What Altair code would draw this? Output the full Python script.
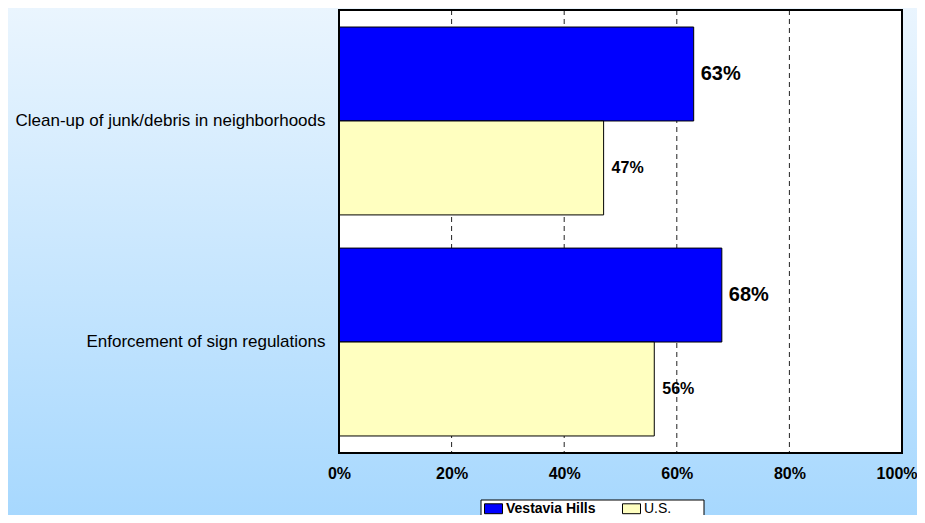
import altair as alt
import pandas as pd

categories = ["Clean-up of junk/debris in neighborhoods", "Enforcement of sign regulations"]
series = ["Vestavia Hills", "U.S."]
vestavia = [0.63, 0.68]
us = [0.47, 0.56]
x_ticks = [0, 0.2, 0.4, 0.6, 0.8, 1.0]
grid_vals = [0.2, 0.4, 0.6, 0.8]
colors = ["#0000FF", "#FFFFC0"]

rows = []
for c, v, u in zip(categories, vestavia, us):
    rows.append({"category": c, "series": series[0], "value": v, "label": f"{round(v*100)}%"})
    rows.append({"category": c, "series": series[1], "value": u, "label": f"{round(u*100)}%"})
df = pd.DataFrame(rows)

W, H = 563, 443
PL, PT, PR, PB = 331, 2, 15, 62
FONT = "Arial, Liberation Sans, sans-serif"

x_axis = alt.Axis(values=x_ticks, format=".0%", title=None, grid=False, domain=False, ticks=False,
                  labelFontWeight="bold", labelFontSize=16, labelFont=FONT, labelColor="black",
                  labelPadding=12, labelFlush=False, zindex=2,
                  labelAlign={"condition": {"test": "datum.value >= 1", "value": "right"}, "value": "center"},
                  labelOffset={"condition": {"test": "datum.value >= 1", "value": 15}, "value": 0})
x_enc = alt.X("value:Q", scale=alt.Scale(domain=[0, 1], nice=False, zero=True), axis=x_axis)
y_enc = alt.Y("category:N", sort=categories, title=None,
              scale=alt.Scale(paddingInner=0.15, paddingOuter=0.077),
              axis=alt.Axis(title=None, ticks=False, domain=False, labelFontSize=17, labelFont=FONT,
                            labelColor="black", labelPadding=14, labelLimit=400, zindex=2))
yoff = alt.YOffset("series:N", sort=series, scale=alt.Scale(paddingInner=0, paddingOuter=0))

one = pd.DataFrame({"a": [0]})

bg = alt.Chart(one).mark_rect(
    clip=False,
    fill=alt.Gradient(gradient="linear", x1=0, x2=0, y1=0, y2=1,
                      stops=[alt.GradientStop(color="#EAF5FE", offset=0),
                             alt.GradientStop(color="#A7D8FE", offset=1)])
).encode(x=alt.value(-PL), x2=alt.value(W + PR), y=alt.value(-PT), y2=alt.value(H + PB))

white = alt.Chart(one).mark_rect(fill="white").encode(
    x=alt.value(0), x2=alt.value(W), y=alt.value(0), y2=alt.value(H))

grid = alt.Chart(pd.DataFrame({"value": grid_vals})).mark_rule(
    color="#222222", strokeDash=[5, 4], strokeWidth=1
).encode(x=x_enc)

bars = alt.Chart(df).mark_bar(stroke="black", strokeWidth=1).encode(
    x=x_enc, y=y_enc, yOffset=yoff,
    color=alt.Color("series:N", sort=series,
                    scale=alt.Scale(domain=series, range=colors),
                    legend=alt.Legend(title=None, orient="none", legendX=145, legendY=489,
                                      direction="horizontal",
                                      symbolType="M-1,-0.55L1,-0.55L1,0.55L-1,0.55Z", symbolSize=324,
                                      symbolStrokeColor="black", symbolStrokeWidth=1,
                                      labelFontSize=14, labelFont=FONT, labelColor="black",
                                      labelFontWeight=alt.ExprRef("datum.label == 'Vestavia Hills' ? 'bold' : 'normal'"),
                                      columnPadding=24, labelOffset=3, padding=0))
)

text_v = alt.Chart(df).transform_filter(alt.datum.series == series[0]).mark_text(
    align="left", baseline="middle", dx=7, fontSize=20, fontWeight="bold", font=FONT, color="black"
).encode(x=x_enc, y=y_enc, yOffset=yoff, text="label:N")

text_u = alt.Chart(df).transform_filter(alt.datum.series == series[1]).mark_text(
    align="left", baseline="middle", dx=8, fontSize=16, fontWeight="bold", font=FONT, color="black"
).encode(x=x_enc, y=y_enc, yOffset=yoff, text="label:N")

border = alt.Chart(one).mark_rect(fillOpacity=0, stroke="black", strokeWidth=2).encode(
    x=alt.value(0), x2=alt.value(W), y=alt.value(0), y2=alt.value(H))

legend_box = alt.Chart(one).mark_rect(clip=False, fill="white", stroke="black", strokeWidth=1).encode(
    x=alt.value(142), x2=alt.value(365), y=alt.value(490), y2=alt.value(H + PB + 5))

chart = alt.layer(bg, white, grid, bars, text_v, text_u, border, legend_box).properties(
    width=W, height=H,
    autosize=alt.AutoSizeParams(type="none"),
    padding={"left": PL, "top": PT, "right": PR, "bottom": PB},
    background="#C8E5FE",
).configure_view(stroke=None)

chart.save("out.html", embed_options={"renderer": "svg", "actions": False})
